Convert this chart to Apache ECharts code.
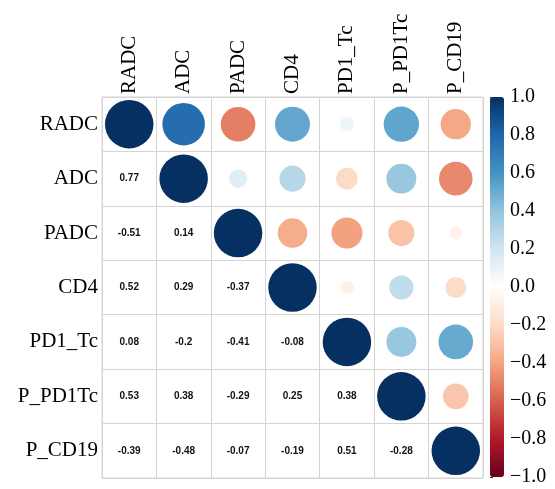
<!DOCTYPE html>
<html>
<head>
<meta charset="utf-8">
<script src="https://cdn.jsdelivr.net/npm/echarts@6/dist/echarts.min.js"></script>
<style>
html,body{margin:0;padding:0;background:#fff;}
#chart{width:555px;height:489px;}
</style>
</head>
<body>
<div id="chart"></div>
<script>
// Variables (rows / columns of the correlation matrix)
const variables = ['RADC', 'ADC', 'PADC', 'CD4', 'PD1_Tc', 'P_PD1Tc', 'P_CD19'];

// Correlation matrix rows
const rowRADC    = [1,     0.77,  -0.51, 0.52,  0.08,  0.53,  -0.39];
const rowADC     = [0.77,  1,     0.14,  0.29,  -0.2,  0.38,  -0.48];
const rowPADC    = [-0.51, 0.14,  1,     -0.37, -0.41, -0.29, -0.07];
const rowCD4     = [0.52,  0.29,  -0.37, 1,     -0.08, 0.25,  -0.19];
const rowPD1_Tc  = [0.08,  -0.2,  -0.41, -0.08, 1,     0.38,  0.51];
const rowP_PD1Tc = [0.53,  0.38,  -0.29, 0.25,  0.38,  1,     -0.28];
const rowP_CD19  = [-0.39, -0.48, -0.07, -0.19, 0.51,  -0.28, 1];

// Colour bar tick labels
const barTicks = [-1.0, -0.8, -0.6, -0.4, -0.2, 0.0, 0.2, 0.4, 0.6, 0.8, 1.0];

const rows = [rowRADC, rowADC, rowPADC, rowCD4, rowPD1_Tc, rowP_PD1Tc, rowP_CD19];

const rdbu = ['#67001F', '#B2182B', '#D6604D', '#F4A582', '#FDDBC7', '#FFFFFF',
              '#D1E5F0', '#92C5DE', '#4393C3', '#2166AC', '#053061'];

const upper = [];
const lower = [];
rows.forEach((r, i) => {
  r.forEach((v, j) => {
    if (j >= i) upper.push([j, i, v]);
    else lower.push([j, i, v]);
  });
});

const MAXD = 48.5;
const chart = echarts.init(document.getElementById('chart'), null, {renderer: 'canvas'});
const gridColor = '#d4d4d4';

chart.setOption({
  animation: false,
  backgroundColor: '#fff',
  grid: [
    {left: 102, top: 97, width: 381, height: 381, show: true, borderColor: gridColor, borderWidth: 1},
    {left: 490, top: 97, width: 14, height: 380, show: false}
  ],
  xAxis: [
    {
      type: 'category', data: variables, position: 'top', gridIndex: 0,
      axisLine: {show: false}, axisTick: {show: false},
      splitLine: {show: true, lineStyle: {color: gridColor, width: 1}},
      axisLabel: {rotate: -90, margin: 3, fontFamily: 'Liberation Serif', fontSize: 21, color: '#000', interval: 0}
    },
    {type: 'value', gridIndex: 1, show: false, min: 0, max: 1}
  ],
  yAxis: [
    {
      type: 'category', data: variables, inverse: true, gridIndex: 0,
      axisLine: {show: false}, axisTick: {show: false},
      splitLine: {show: true, lineStyle: {color: gridColor, width: 1}},
      axisLabel: {margin: 4, fontFamily: 'Liberation Serif', fontSize: 21, color: '#000', interval: 0}
    },
    {
      type: 'value', gridIndex: 1, position: 'right', min: -1, max: 1, interval: 0.2,
      axisLine: {show: false},
      axisTick: {show: true, length: 3, inside: false, lineStyle: {color: '#333', width: 1}},
      splitLine: {show: false},
      axisLabel: {
        margin: 6, fontFamily: 'Liberation Serif', fontSize: 20, color: '#000',
        formatter: function (v) {
          const r = Math.round(v * 10) / 10;
          return (r < 0 ? '\u2212' : '') + Math.abs(r).toFixed(1);
        }
      }
    }
  ],
  visualMap: {
    type: 'continuous', min: -1, max: 1, dimension: 2, seriesIndex: 0,
    orient: 'vertical', left: 490, top: 97, itemWidth: 14, itemHeight: 380,
    padding: 0, calculable: false, text: null, showLabel: false, hoverLink: false,
    inRange: {color: rdbu}
  },
  series: [
    {
      type: 'scatter', xAxisIndex: 0, yAxisIndex: 0, data: upper,
      symbol: 'circle',
      symbolSize: function (d) { return MAXD * Math.sqrt(Math.abs(d[2])); },
      itemStyle: {opacity: 1},
      emphasis: {disabled: true}, silent: true
    },
    {
      type: 'scatter', xAxisIndex: 0, yAxisIndex: 0, data: lower,
      symbolSize: 1, itemStyle: {color: 'rgba(0,0,0,0)', opacity: 1},
      label: {
        show: true, position: 'inside', color: '#111',
        fontFamily: 'Liberation Sans', fontWeight: 'bold', fontSize: 10,
        formatter: function (p) { return String(p.data[2]); }
      },
      emphasis: {disabled: true}, silent: true
    }
  ]
});
</script>
</body>
</html>
